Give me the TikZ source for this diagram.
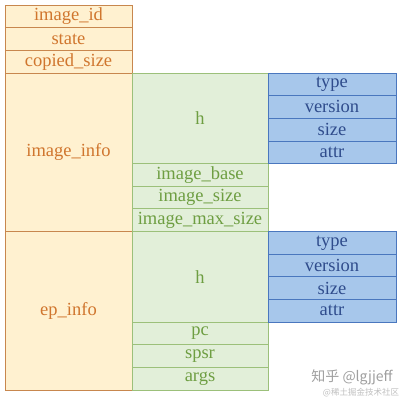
\documentclass[tikz,border=0pt]{standalone}
\usepackage{fontspec}
\setmainfont{Liberation Serif}
\newfontfamily\cjkfont{Noto Sans CJK SC}
\newfontfamily\fieldfont{Liberation Serif}
\usepackage{tikz}
\usetikzlibrary{positioning,calc}

\definecolor{orangefill}{HTML}{FFF1D0}
\definecolor{orangeline}{HTML}{C8874E}
\definecolor{orangetext}{HTML}{D0762E}
\definecolor{greenfill}{HTML}{E2EFD9}
\definecolor{greenline}{HTML}{9CC07A}
\definecolor{greentext}{HTML}{6E9E42}
\definecolor{bluefill}{HTML}{A7C7EB}
\definecolor{blueline}{HTML}{4A77BE}
\definecolor{bluetext}{HTML}{2F4C8C}

\begin{document}
\begin{tikzpicture}[
    x=1pt,
    y=-1pt,
    field/.style={
        draw,
        line width=0.8pt,
        inner sep=0pt,
        minimum height=22.65pt,
        font=\fieldfont\fontsize{18.5}{20}\selectfont
    },
    orangebox/.style={
        field,
        fill=orangefill,
        draw=orangeline,
        text=orangetext,
        minimum width=127pt
    },
    greenbox/.style={
        field,
        fill=greenfill,
        draw=greenline,
        text=greentext,
        minimum width=136pt
    },
    bluebox/.style={
        field,
        fill=bluefill,
        draw=blueline,
        text=bluetext,
        minimum width=128pt
    },
    mark note/.style={text=gray!75, inner sep=0pt}
]

\useasboundingbox (0,0) rectangle (403,400);

% ============================================================
% Outer structure
% ============================================================

\node[orangebox] (imageid) at (68.5,16.325) {image\_id};
\node[orangebox] (state) at (68.5,38.975) {state};
\node[orangebox] (copied) at (68.5,61.625) {copied\_size};

\node[
    orangebox,
    minimum height=158.55pt
] (imageinfo) at (68.5,152.225) {image\_info};

\node[
    orangebox,
    minimum height=158.55pt
] (epinfo) at (68.5,310.775) {ep\_info};

% ============================================================
% image_info members
% ============================================================

\node[
    greenbox,
    minimum height=90.6pt
] (hone) at (200,118.25) {h};

\node[greenbox] (imagebase) at (200,174.875) {image\_base};
\node[greenbox] (imagesize) at (200,197.525) {image\_size};
\node[greenbox] (imagemax) at (200,220.175) {image\_max\_size};

% header of image_info
\node[bluebox] (typeone) at (332,84.275) {type};
\node[bluebox] (versionone) at (332,106.925) {version};
\node[bluebox] (sizeone) at (332,129.575) {size};
\node[bluebox] (attrone) at (332,152.225) {attr};

% ============================================================
% ep_info members
% ============================================================

\node[
    greenbox,
    minimum height=90.6pt
] (htwo) at (200,276.8) {h};

\node[greenbox] (pc) at (200,333.425) {pc};
\node[greenbox] (spsr) at (200,356.075) {spsr};
\node[greenbox] (args) at (200,378.725) {args};

% header of ep_info
\node[bluebox] (typetwo) at (332,242.825) {type};
\node[bluebox] (versiontwo) at (332,265.475) {version};
\node[bluebox] (sizetwo) at (332,288.125) {size};
\node[bluebox] (attrtwo) at (332,310.775) {attr};

% ============================================================
% Watermark
% ============================================================

\node[
    mark note,
    font=\cjkfont\fontsize{14}{16}\selectfont
] (markone) at (352,377) {知乎 @lgjjeff};

\node[
    mark note,
    text=gray!50,
    font=\cjkfont\fontsize{8.5}{10}\selectfont
] (marktwo) at (361,392.5) {@稀土掘金技术社区};

\end{tikzpicture}
\end{document}
